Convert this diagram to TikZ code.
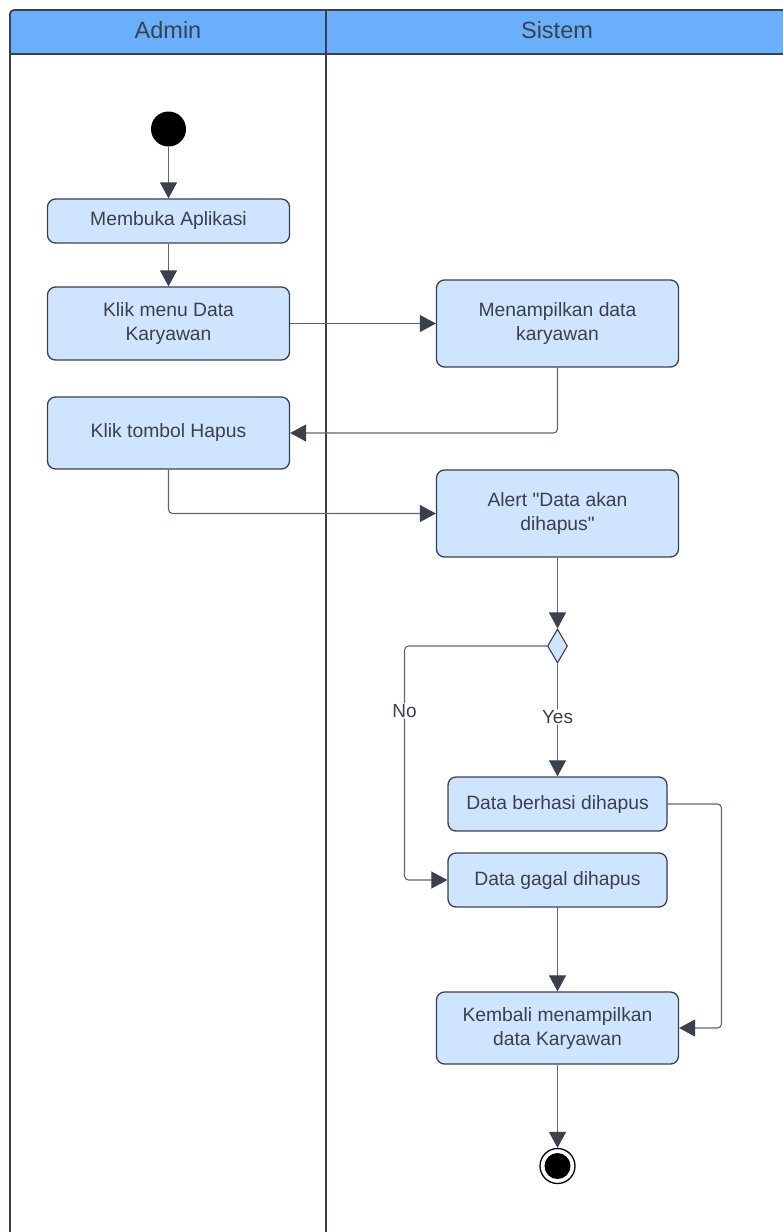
\documentclass[tikz,border=0pt]{standalone}
\usepackage{fontspec}
\setmainfont{Liberation Sans}
\usetikzlibrary{arrows.meta,shapes.geometric}
\definecolor{lanehead}{HTML}{6AAFFC}
\definecolor{actfill}{HTML}{CFE4FF}
\definecolor{ink}{HTML}{3A414A}
\definecolor{wire}{HTML}{5F6670}
\begin{document}
\begin{tikzpicture}[x=1pt,y=-1pt,
  act/.style={draw=ink, line width=1.3pt, fill=actfill, rounded corners=8pt,
    text=ink, align=center, font=\fontsize{19.3}{24}\selectfont, inner sep=0pt},
  flow/.style={draw=wire, line width=1.1pt, rounded corners=4pt,
    -{Triangle[width=17pt,length=16pt,color=ink]}},
  lane/.style={draw=ink, line width=1.8pt},
  guard/.style={text=ink, font=\fontsize{19}{22}\selectfont, fill=white, inner sep=1pt}
]
\useasboundingbox (0,0) rectangle (783,1232);
\clip (0,0) rectangle (783,1232);

% swimlanes
\fill[lanehead, rounded corners=4pt] (10,54) -- (10,10) -- (800,10) -- (800,54) -- cycle;
\draw[lane, rounded corners=4pt] (10,1260) -- (10,10) -- (800,10);
\draw[lane] (10,54) -- (800,54);
\draw[lane] (326,10) -- (326,1260);
\node[text=ink, font=\fontsize{23.5}{28}\selectfont] (hadmin) at (168,30) {Admin};
\node[text=ink, font=\fontsize{23.5}{28}\selectfont] (hsistem) at (557,30) {Sistem};

% start and end
\node[circle, fill=black, minimum size=35pt, inner sep=0pt] (start) at (168.5,129) {};
\node[circle, draw=black, line width=1.3pt, fill=white, minimum size=35pt, inner sep=0pt] (stop) at (557.5,1166) {};
\node[circle, fill=black, minimum size=26pt, inner sep=0pt] (stopdot) at (557.5,1166) {};

% activities
\node[act, minimum width=242pt, minimum height=44pt] (buka) at (168.5,221) {Membuka Aplikasi};
\node[act, minimum width=242pt, minimum height=73pt] (menu) at (168.5,323.5) {Klik menu Data\\Karyawan};
\node[act, minimum width=242pt, minimum height=87pt] (tampil) at (557.5,323.5) {Menampilkan data\\karyawan};
\node[act, minimum width=242pt, minimum height=72pt] (hapus) at (168.5,433) {Klik tombol Hapus};
\node[act, minimum width=242pt, minimum height=87pt] (alert) at (557.5,513.5) {Alert \textquotedbl Data akan\\dihapus\textquotedbl};
\node[diamond, draw=ink, line width=1.1pt, fill=actfill, minimum width=20pt, minimum height=34pt, inner sep=0pt] (cek) at (557.5,646) {};
\node[act, minimum width=219pt, minimum height=54pt] (berhasil) at (557.5,804) {Data berhasi dihapus};
\node[act, minimum width=219pt, minimum height=54pt] (gagal) at (557.5,880) {Data gagal dihapus};
\node[act, minimum width=242pt, minimum height=72pt] (kembali) at (557.5,1028) {Kembali menampilkan\\data Karyawan};

% flows
\draw[flow] (start.south) -- (buka.north);
\draw[flow] (buka.south) -- (menu.north);
\draw[flow] (menu.east) -- (tampil.west);
\draw[flow] (tampil.south) |- (hapus.east);
\draw[flow] (hapus.south) |- (alert.west);
\draw[flow] (alert.south) -- (cek.north);
\draw[flow] (cek.west) -| (404.5,711) node[guard] (no) {No} |- (gagal.west);
\draw[flow] (cek.south) -- (557.5,717) node[guard] (yes) {Yes} -- (berhasil.north);
\draw[flow] (berhasil.east) -| (721.5,916) |- (kembali.east);
\draw[flow] (gagal.south) -- (kembali.north);
\draw[flow] (kembali.south) -- (stop.north);
\end{tikzpicture}
\end{document}
